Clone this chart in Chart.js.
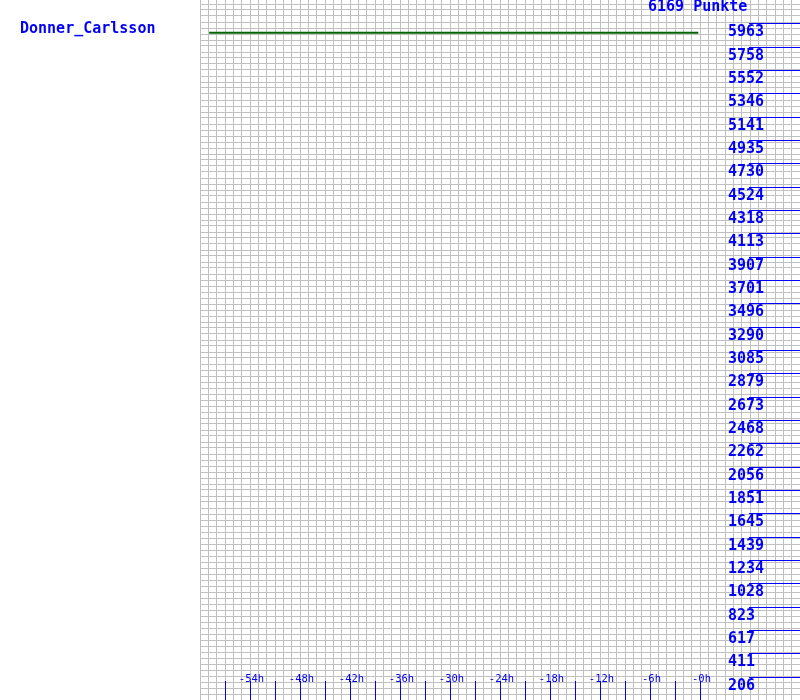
<!DOCTYPE html>
<html>
<head>
<meta charset="utf-8">
<script src="https://cdn.jsdelivr.net/npm/chart.js@4/dist/chart.umd.min.js"></script>
<style>
html,body{margin:0;padding:0;background:#fff;}
#wrap{position:absolute;left:0;top:0;width:800px;height:700px;}
</style>
</head>
<body>
<div id="wrap"><canvas id="c" width="800" height="700"></canvas></div>
<script>
// ---- data ----
const playerName = "Donner_Carlsson";
const titleText = "6169 Punkte";
const maxPoints = 6169;
const seriesHours = [-58.9, -0.2];
const seriesPoints = [5880, 5880];
const yTickLabels = ["5963","5758","5552","5346","5141","4935","4730","4524","4318","4113",
  "3907","3701","3496","3290","3085","2879","2673","2468","2262","2056","1851","1645",
  "1439","1234","1028","823","617","411","206"];
const xLabelHours = [-54,-48,-42,-36,-30,-24,-18,-12,-6,0];
const xLabelTexts = ["-54h","-48h","-42h","-36h","-30h","-24h","-18h","-12h","-6h","-0h"];
const xMarkHours = [-57,-54,-51,-48,-45,-42,-39,-36,-33,-30,-27,-24,-21,-18,-15,-12,-9,-6,-3,0];
const xRange = [-60, 12];

const BLUE = '#0000ff';
const GRID = '#c0c0c0';

const overlay = {
  id: 'overlay',
  afterDraw(chart) {
    const ctx = chart.ctx;
    const xs = chart.scales.x, ys = chart.scales.y;
    ctx.save();
    ctx.fillStyle = BLUE;
    ctx.strokeStyle = BLUE;
    ctx.lineWidth = 1;
    ctx.textBaseline = 'alphabetic';
    ctx.font = "bold 15px 'DejaVu Sans Mono'";
    ctx.textAlign = 'left';
    ctx.fillText(playerName, 20, 33);
    ctx.fillText(titleText, 648, 11);
    // right value marks
    yTickLabels.forEach(t => {
      const y = Math.round(ys.getPixelForValue(parseFloat(t))) + 0.5;
      ctx.beginPath(); ctx.moveTo(749, y); ctx.lineTo(800, y); ctx.stroke();
      ctx.fillText(t, 728, y + 12.5);
    });
    // bottom hour marks
    xMarkHours.forEach(h => {
      const x = Math.round(xs.getPixelForValue(h)) + 0.5;
      ctx.beginPath(); ctx.moveTo(x, 681); ctx.lineTo(x, 700); ctx.stroke();
    });
    ctx.font = "10.5px 'DejaVu Sans Mono'";
    ctx.textAlign = 'center';
    xLabelHours.forEach((h, i) => {
      const x = xs.getPixelForValue(h);
      ctx.fillText(xLabelTexts[i], x + 1.5, 682);
    });
    ctx.restore();
  }
};

new Chart(document.getElementById('c'), {
  type: 'line',
  data: {
    datasets: [{
      data: seriesHours.map((h, i) => ({x: h, y: seriesPoints[i]})),
      borderColor: '#006400',
      borderWidth: 2,
      pointRadius: 0,
      fill: false,
      tension: 0
    }]
  },
  options: {
    responsive: false,
    devicePixelRatio: 1,
    animation: false,
    layout: {padding: {left: 200, right: 0, top: 0, bottom: 0}},
    plugins: {legend: {display: false}, tooltip: {enabled: false}},
    scales: {
      x: {
        type: 'linear', min: xRange[0], max: xRange[1],
        ticks: {display: false},
        border: {display: false},
        grid: {color: GRID, lineWidth: 1, drawTicks: false, tickLength: 0},
        afterBuildTicks(s) {
          const t = [];
          for (let h = xRange[0]; h <= xRange[1]; h++) t.push({value: h});
          s.ticks = t;
        }
      },
      y: {
        type: 'linear', min: 0, max: maxPoints,
        ticks: {display: false},
        border: {display: false},
        grid: {color: GRID, lineWidth: 1, drawTicks: false, tickLength: 0},
        afterBuildTicks(s) {
          // grid rows every 6 px of the 700 px plot height
          const step = maxPoints * 6 / 700;
          const t = [];
          for (let k = 0; k * step <= maxPoints + 1e-6; k++) t.push({value: k * step});
          s.ticks = t;
        }
      }
    }
  },
  plugins: [overlay]
});
</script>
</body>
</html>
